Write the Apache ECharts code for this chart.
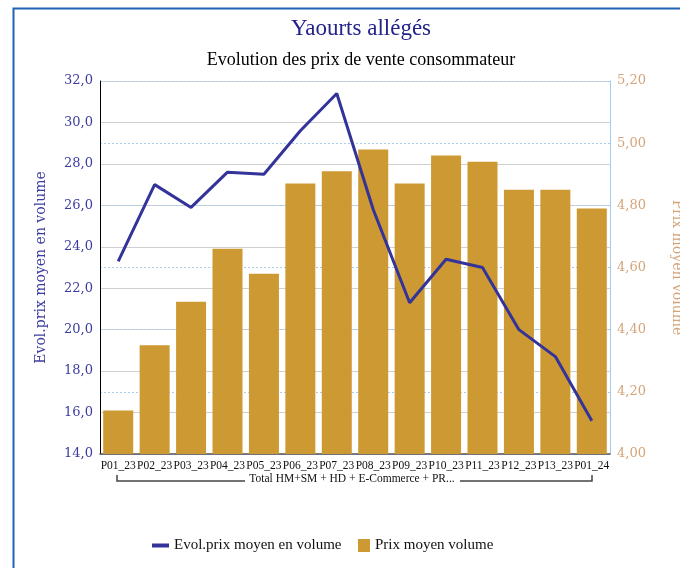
<!DOCTYPE html>
<html>
<head>
<meta charset="utf-8">
<script src="https://cdn.jsdelivr.net/npm/echarts@6/dist/echarts.min.js"></script>
<style>
  html, body { margin: 0; padding: 0; background: #fff; }
  #main { width: 680px; height: 568px; }
</style>
</head>
<body>
<div id="main"></div>
<script>
// periodes
const categories = ["P01_23", "P02_23", "P03_23", "P04_23", "P05_23", "P06_23", "P07_23",
  "P08_23", "P09_23", "P10_23", "P11_23", "P12_23", "P13_23", "P01_24"]
// prix moyen volume (axe droit)
const prixMoyen = [4.14, 4.35, 4.49, 4.66, 4.58, 4.87, 4.91, 4.98, 4.87, 4.96, 4.94, 4.85, 4.85, 4.79]
// evol. prix moyen en volume (axe gauche)
const evolPrix = [23.3, 27.0, 25.9, 27.6, 27.5, 29.6, 31.4, 25.8, 21.3, 23.4, 23.0, 20.0, 18.7, 15.6]
const groupLabel = "Total HM+SM + HD + E-Commerce + PR..."

const serif = "Liberation Serif"
const century = "DejaVu Serif"
const comma = (d) => (v) => v.toFixed(d).replace(".", ",")
const legendText = { fontFamily: serif, fontSize: 15, color: "#111" }

const myChart = echarts.init(document.getElementById("main"))
myChart.setOption({
  animation: false,
  title: [
    {
      text: "Yaourts allégés",
      left: 356, top: 12, textAlign: "center",
      textStyle: { fontFamily: serif, fontSize: 23, fontWeight: "normal", color: "#23238c" }
    },
    {
      text: "Evolution des prix de vente consommateur",
      left: 356, top: 46, textAlign: "center",
      textStyle: { fontFamily: serif, fontSize: 18, fontWeight: "normal", color: "#000" }
    }
  ],
  // deux légendes pour avoir un trait fin et un carré
  legend: [
    {
      left: 147, top: 533,
      data: ["Evol.prix moyen en volume"],
      icon: "rect", itemWidth: 17, itemHeight: 4,
      itemStyle: { color: "#333399" },
      textStyle: legendText
    },
    {
      left: 353, top: 533,
      data: ["Prix moyen volume"],
      icon: "rect", itemWidth: 12, itemHeight: 13,
      textStyle: legendText
    }
  ],
  grid: { left: 100, right: 70, top: 81, bottom: 114, outerBoundsMode: "none" },
  xAxis: {
    type: "category",
    data: categories,
    axisLine: { lineStyle: { color: "#555", width: 1.5 } },
    axisTick: { show: false },
    axisLabel: { interval: 0, margin: 6, fontFamily: serif, fontSize: 11.5, color: "#111" }
  },
  yAxis: [
    {
      type: "value", min: 14, max: 32, interval: 2,
      name: "Evol.prix moyen en volume",
      nameLocation: "middle", nameGap: 52,
      nameTextStyle: { fontFamily: century, fontSize: 14, color: "#3c3ca0" },
      axisLine: { show: true, lineStyle: { color: "#000" } },
      axisTick: { show: false },
      axisLabel: { formatter: comma(1), fontFamily: century, fontSize: 13, color: "#3c3ca0", margin: 7 },
      splitLine: { lineStyle: { color: "#d0d0d0", width: 1.2 } }
    },
    {
      type: "value", min: 4, max: 5.2, interval: 0.2,
      name: "Prix moyen volume",
      nameLocation: "middle", nameGap: 60, nameRotate: -90,
      nameTextStyle: { fontFamily: century, fontSize: 14, color: "#d4a57a" },
      axisLine: { show: true, lineStyle: { color: "#9fcdf2" } },
      axisTick: { show: false },
      axisLabel: { formatter: comma(2), fontFamily: century, fontSize: 13, color: "#d4a57a", margin: 7 },
      splitLine: { lineStyle: { color: "#a9cdee", type: [2, 2] } }
    }
  ],
  series: [
    {
      name: "Prix moyen volume",
      type: "bar",
      yAxisIndex: 1,
      data: prixMoyen,
      barWidth: 30,
      itemStyle: { color: "#cc9933" },
      z: 2
    },
    {
      name: "Evol.prix moyen en volume",
      type: "line",
      yAxisIndex: 0,
      data: evolPrix,
      symbol: "none",
      lineStyle: { color: "#333399", width: 3 },
      itemStyle: { color: "#333399" },
      z: 3
    }
  ],
  graphic: [
    // cadre
    {
      type: "polyline", silent: true,
      shape: { points: [[13.5, 580], [13.5, 8.5], [700, 8.5]] },
      style: { stroke: "#1f63b4", lineWidth: 2, fill: null }
    },
    // accolade du groupe
    {
      type: "polyline", silent: true,
      shape: { points: [[117, 475], [117, 481], [245, 481]] },
      style: { stroke: "#444", lineWidth: 1.5, fill: null }
    },
    {
      type: "polyline", silent: true,
      shape: { points: [[460, 481], [592, 481], [592, 475]] },
      style: { stroke: "#444", lineWidth: 1.5, fill: null }
    },
    {
      type: "text", silent: true,
      x: 352, y: 479,
      style: {
        text: groupLabel, fontFamily: serif, fontSize: 11.5, fill: "#111",
        align: "center", verticalAlign: "middle"
      }
    }
  ]
})
</script>
</body>
</html>
